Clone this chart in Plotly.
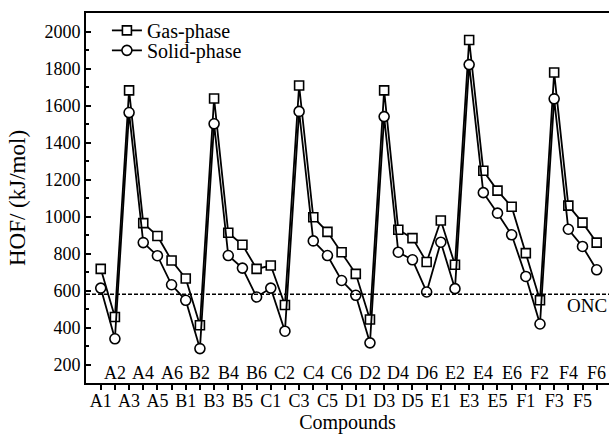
import plotly.graph_objects as go

groups = ["A", "B", "C", "D", "E", "F"]
categories = [f"{g}{i}" for g in groups for i in range(1, 7)]

gas_phase = [717, 457, 1682, 964, 895, 762,
             665, 412, 1638, 912, 847, 717,
             735, 522, 1708, 996, 917, 807,
             690, 443, 1682, 928, 883, 754,
             978, 739, 1954, 1247, 1140, 1053,
             802, 547, 1778, 1059, 967, 859]
solid_phase = [613, 339, 1562, 859, 788, 631,
               547, 286, 1501, 789, 721, 565,
               613, 380, 1568, 868, 789, 654,
               574, 317, 1540, 807, 766, 592,
               861, 610, 1821, 1129, 1018, 901,
               676, 419, 1636, 931, 838, 712]
onc_hof = 580
y_ticks = [200, 400, 600, 800, 1000, 1200, 1400, 1600, 1800, 2000]

odd_labels = [c if i % 2 == 0 else "" for i, c in enumerate(categories)]
even_cats = [c for i, c in enumerate(categories) if i % 2 == 1]

FONT = "Liberation Serif"

fig = go.Figure()
fig.add_trace(go.Scatter(
    x=categories, y=gas_phase, name="Gas-phase", mode="lines+markers", legend="legend",
    line=dict(color="black", width=1.8),
    marker=dict(symbol="square", size=9, color="white", line=dict(color="black", width=1.6)),
))
fig.add_trace(go.Scatter(
    x=categories, y=solid_phase, name="Solid-phase", mode="lines+markers", legend="legend2",
    line=dict(color="black", width=1.8),
    marker=dict(symbol="circle", size=10, color="white", line=dict(color="black", width=1.6)),
))

fig.add_shape(type="line", xref="paper", x0=0, x1=1, yref="y", y0=onc_hof, y1=onc_hof,
              line=dict(color="black", width=1.5, dash="4px,2px"))
fig.add_annotation(xref="paper", x=1, yref="y", y=onc_hof, text="ONC", showarrow=False,
                   xanchor="right", yanchor="top", yshift=1,
                   font=dict(family=FONT, size=19, color="black"))

# even category labels sit just above the x axis line (staggered labels)
for c in even_cats:
    fig.add_annotation(xref="x", x=c, yref="paper", y=0, text=c, showarrow=False,
                       xanchor="center", yanchor="bottom", yshift=-2,
                       font=dict(family=FONT, size=18, color="black"))

legend_style = dict(xanchor="left", yanchor="middle", bgcolor="rgba(0,0,0,0)",
                    borderwidth=0, font=dict(family=FONT, size=20, color="black"))

xr = [-1.04, 35.87]
fig.update_layout(
    width=609, height=435,
    margin=dict(l=86, r=0, t=13, b=52),
    paper_bgcolor="white", plot_bgcolor="white",
    font=dict(family=FONT, size=18, color="black"),
    showlegend=True,
    legend=dict(x=0.04, y=0.953, **legend_style),
    legend2=dict(x=0.04, y=0.899, **legend_style),
    xaxis=dict(
        type="category", categoryorder="array", categoryarray=categories,
        range=xr, tickmode="array", tickvals=categories, ticktext=odd_labels,
        ticks="outside", ticklen=5, tickwidth=1.5, tickcolor="black",
        ticklabelstandoff=-5,
        showline=True, linewidth=2, linecolor="black", mirror=True,
        showgrid=False, zeroline=False, tickangle=0, automargin=False,
        tickfont=dict(family=FONT, size=18, color="black"),
        title=dict(text="Compounds", font=dict(family=FONT, size=20, color="black"), standoff=0),
    ),
    yaxis=dict(
        range=[100, 2100], tickmode="array", tickvals=y_ticks,
        ticks="inside", ticklen=5, tickwidth=1.5, tickcolor="black",
        minor=dict(dtick=100, tick0=0, ticks="inside", ticklen=3, tickwidth=1.5, tickcolor="black"),
        showline=True, linewidth=2, linecolor="black", mirror=False,
        showgrid=False, zeroline=False, automargin=False,
        tickfont=dict(family=FONT, size=18, color="black"),
        title=dict(text="HOF/ (kJ/mol)", font=dict(family=FONT, size=23, color="black"), standoff=12),
    ),
)

fig.write_html("out.html", config={"displayModeBar": False},
               post_script="document.body.style.margin='0px';")
